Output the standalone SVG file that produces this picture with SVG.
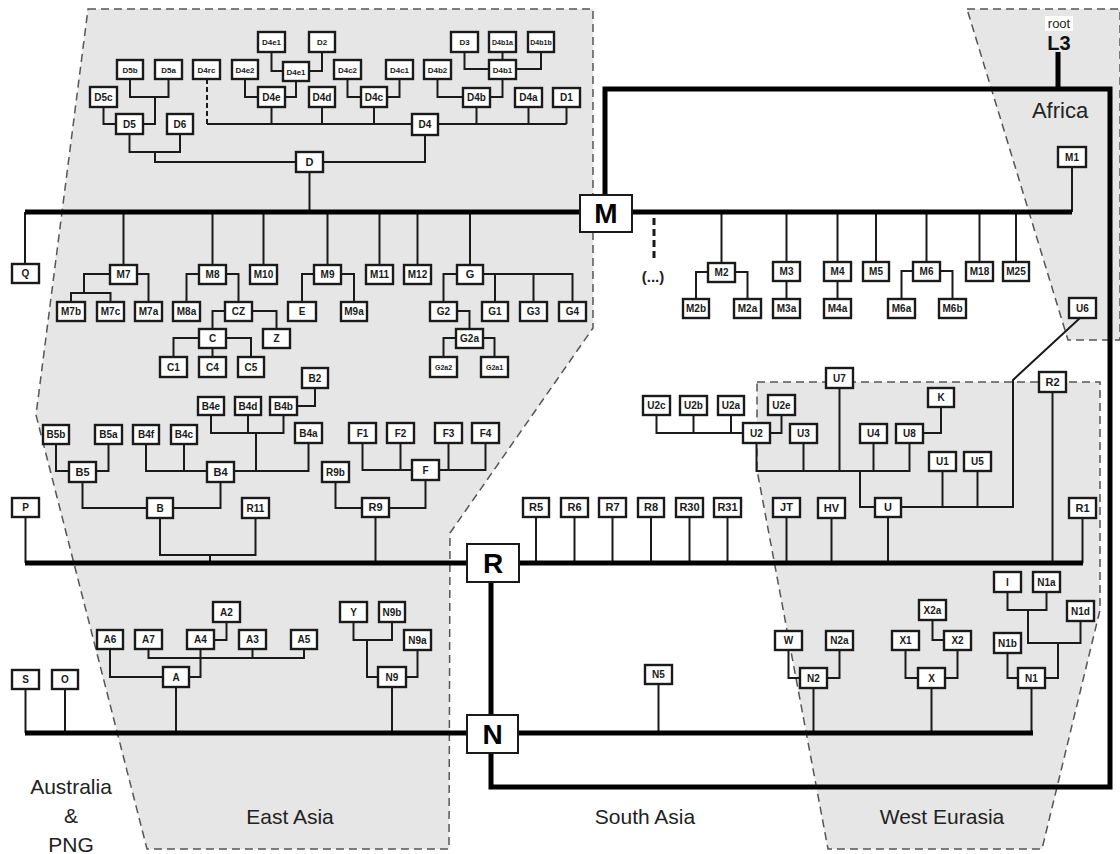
<svg xmlns="http://www.w3.org/2000/svg" width="1120" height="854" viewBox="0 0 1120 854">
<style>
.reg{fill:#e6e6e6;stroke:#555;stroke-width:1.5;stroke-dasharray:8,5}
.c{fill:none;stroke:#1a1a1a;stroke-width:2}
.dc{fill:none;stroke:#1a1a1a;stroke-width:2;stroke-dasharray:5,3}
.t{fill:none;stroke:#000;stroke-width:5}
.n rect{fill:#fff;stroke:#1a1a1a;stroke-width:2.4}
.b rect{fill:#fff;stroke:#1a1a1a;stroke-width:2}
.n text{font-family:"Liberation Sans",Arial,sans-serif;font-weight:bold;font-size:10px;text-anchor:middle;fill:#1a1a1a}
.n.s8 text{font-size:8px}
.n.s7 text{font-size:7px}
.b text{font-family:"Liberation Sans",Arial,sans-serif;font-weight:bold;font-size:28px;text-anchor:middle;fill:#000}
.lab{font-family:"Liberation Sans",Arial,sans-serif;font-size:21px;text-anchor:middle;fill:#222}
</style>
<rect width="1120" height="854" fill="#fff"/>
<g id="regions">
<polygon class="reg" points="88,9 593,9 593,328 450,533 449,849 147,849 36,415"/>
<polygon class="reg" points="967,9 1120,9 1120,340 1068,340"/>
<polygon class="reg" points="757,382 1100,382 1100,610 1042,849 828,849 757,470"/>
</g>
<g id="connectors">
<path class="c" d="M130,79 V97 H168.5 V79 M155,97 V124 H143 M103.5,107 V124 H116 M129.5,134 V152 H180 V134 M155,152 V162 H296 M323,162 H425 V135 M309.5,172 V212"/>
<path class="c" d="M207,124 H412 M438,124 H566.5 M271.5,107 V124 M322,107 V124 M374,107 V124 M476.5,107 V124 M528.5,107 V124 M566.5,107 V124"/>
<path class="dc" d="M207,79 V124"/>
<path class="c" d="M245,79 V97 H258 M296,81 V97 H285 M271.5,52 V71 H283 M322,52 V71 H309 M347.5,79 V97 H361 M399.5,79 V97 H387 M437.5,79 V97 H463 M502.5,79 V97 H490 M464.5,52 V69 H489 M502.5,52 V60 M541,52 V69 H516"/>
<path class="c" d="M25,212 V264 M123.5,212 V265 M212.5,212 V265 M263.5,212 V265 M327.5,212 V265 M379.5,212 V265 M417.5,212 V265 M470,212 V265 M721.5,212 V263 M786.5,212 V262 M837.5,212 V262 M876,212 V262 M926.5,212 V262 M979.5,212 V262 M1016,212 V262 M1072,212 V167"/>
<path class="dc" d="M654,218 V262" style="stroke-width:3;stroke-dasharray:7,4"/>
<path class="c" d="M110,274 H84 V293 M71,302 V293 H110.5 V302 M137,274 H148.5 V302 M199,274 H186.5 V302 M226,274 H238.5 V302 M225,311 H212.5 V329 M252,311 H276.5 V329 M199,338 H173.5 V357 M212.5,348 V357 M226,338 H251 V357"/>
<path class="c" d="M314,274 H302 V302 M341,274 H354 V302 M457,274 H443.5 V302 M483,274 H572.5 V302 M495,274 V302 M533.5,274 V302 M457,311 H469.5 V329 M456,338 H443.5 V357 M483,338 H494.5 V357"/>
<path class="c" d="M708,272 H696 V299 M735,272 H747.5 V299 M786.5,281 V299 M837.5,281 V299 M913,271 H901.5 V299 M940,271 H952.5 V299"/>
<path class="c" d="M297,406 H315 V388 M211,415 V433 H283.5 V415 M248,415 V433 M256,433 V471 M56,444 V471 H69 M108.5,444 V471 H96 M146,444 V471 H207 M184,444 V471 M234,471 H308.5 V443 M82.5,482 V508 H147 M173,508 H220.5 V482 M160,518 V555 H255.5 V518 M210,555 V563 M335.5,482 V508 H362 M375.5,517 V563 M362.5,443 V470 H412 M439,470 H485.5 V443 M400.5,443 V470 M448.5,443 V470 M425.5,480 V508 H389 M25.5,517 V563"/>
<path class="c" d="M536,517 V563 M574.5,517 V563 M612.5,517 V563 M651,517 V563 M689.5,517 V563 M727.5,517 V563 M786.5,517 V563 M831.5,518 V563 M888,517 V563 M1052.5,392 V563 M1082.5,518 V563"/>
<path class="c" d="M656.5,415 V433 H743 M693.5,415 V433 M731,415 V433 M781.5,415 V433 H770 M941,407 V433 H923 M756.5,443 V471 H909.5 V443 M803.5,443 V471 M839.5,388 V471 M873.5,443 V471 M860,471 V507 H875 M901,507 H1013 V380 L1080,318 M942.5,471 V507 M977.5,471 V507"/>
<path class="c" d="M25.5,689 V733 M65,689 V733 M226.5,622 V640 H214 M148.5,649 V658 H304 V649 M252.5,649 V658 M200.5,649 V677 H189 M110,649 V677 H163 M176,687 V733 M353.5,622 V640 H392 V622 M367,640 V677 H378 M417.5,650 V677 H406 M392,687 V733 M658.5,684 V733"/>
<path class="c" d="M788.5,650 V678 H800 M839.5,650 V678 H827 M813.5,688 V733 M932.5,620 V640 H944 M905.5,650 V678 H918 M957.5,650 V678 H945 M931.5,688 V733 M1007.5,592 V610 H1046.5 V592 M1028,610 V643 H1080.5 V621 M1058,643 V678 H1045 M1007.5,653 V678 H1018 M1031.5,688 V733"/>
<path class="t" d="M1058,52 V89 M605,195 V89 H1110 V787 H491 V753 M25,212 H580 M632,212 H1072 M25,563 H467 M519,563 H1083 M491,582 V715 M25,733 H467 M518,733 H1033"/>
</g>
<g id="labels">
<rect x="1045" y="16" width="28" height="15" fill="#fff"/>
<text x="1059" y="28" style="font-family:'Liberation Sans',Arial,sans-serif;font-size:13px;text-anchor:middle;fill:#222">root</text>
<text x="1059" y="50" style="font-family:'Liberation Sans',Arial,sans-serif;font-size:20px;font-weight:bold;text-anchor:middle;fill:#111">L3</text>
<text class="lab" x="1060" y="118" style="font-size:22px">Africa</text>
<text class="lab" x="653" y="282" style="font-size:15px;font-weight:bold">(...)</text>
<text class="lab" x="71" y="794">Australia</text>
<text class="lab" x="71" y="823">&amp;</text>
<text class="lab" x="71" y="852">PNG</text>
<text class="lab" x="290" y="824">East Asia</text>
<text class="lab" x="645" y="824">South Asia</text>
<text class="lab" x="942" y="824">West Eurasia</text>
</g>
<g id="n-D4e1-top" class="n s8"><rect x="258" y="32" width="27" height="20"/><text x="271.5" y="45">D4e1</text></g>
<g id="n-D2" class="n s8"><rect x="309" y="32" width="26" height="20"/><text x="322" y="45">D2</text></g>
<g id="n-D3" class="n s8"><rect x="451" y="32" width="27" height="20"/><text x="464.5" y="45">D3</text></g>
<g id="n-D4b1a" class="n s7"><rect x="489" y="32" width="27" height="20"/><text x="502.5" y="44.5">D4b1a</text></g>
<g id="n-D4b1b" class="n s7"><rect x="528" y="32" width="26" height="20"/><text x="541" y="44.5">D4b1b</text></g>
<g id="n-D5b" class="n s8"><rect x="117" y="60" width="26" height="19"/><text x="130" y="72.5">D5b</text></g>
<g id="n-D5a" class="n s8"><rect x="155" y="60" width="27" height="19"/><text x="168.5" y="72.5">D5a</text></g>
<g id="n-D4rc" class="n s8"><rect x="193" y="60" width="27" height="19"/><text x="206.5" y="72.5">D4rc</text></g>
<g id="n-D4e2" class="n s8"><rect x="232" y="60" width="26" height="19"/><text x="245" y="72.5">D4e2</text></g>
<g id="n-D4e1" class="n s8"><rect x="283" y="62" width="26" height="19"/><text x="296" y="74.5">D4e1</text></g>
<g id="n-D4c2" class="n s8"><rect x="334" y="60" width="27" height="19"/><text x="347.5" y="72.5">D4c2</text></g>
<g id="n-D4c1" class="n s8"><rect x="386" y="60" width="27" height="19"/><text x="399.5" y="72.5">D4c1</text></g>
<g id="n-D4b2" class="n s8"><rect x="424" y="60" width="27" height="19"/><text x="437.5" y="72.5">D4b2</text></g>
<g id="n-D4b1" class="n s8"><rect x="489" y="60" width="27" height="19"/><text x="502.5" y="72.5">D4b1</text></g>
<g id="n-D5c" class="n"><rect x="90" y="87" width="27" height="20"/><text x="103.5" y="100.5">D5c</text></g>
<g id="n-D4e" class="n"><rect x="258" y="87" width="27" height="20"/><text x="271.5" y="100.5">D4e</text></g>
<g id="n-D4d" class="n"><rect x="309" y="87" width="26" height="20"/><text x="322" y="100.5">D4d</text></g>
<g id="n-D4c" class="n"><rect x="361" y="87" width="26" height="20"/><text x="374" y="100.5">D4c</text></g>
<g id="n-D4b" class="n"><rect x="463" y="88" width="27" height="19"/><text x="476.5" y="101">D4b</text></g>
<g id="n-D4a" class="n"><rect x="515" y="88" width="27" height="19"/><text x="528.5" y="101">D4a</text></g>
<g id="n-D1" class="n"><rect x="553" y="88" width="27" height="19"/><text x="566.5" y="101">D1</text></g>
<g id="n-D5" class="n"><rect x="116" y="114" width="27" height="20"/><text x="129.5" y="127.5">D5</text></g>
<g id="n-D6" class="n"><rect x="167" y="114" width="26" height="20"/><text x="180" y="127.5">D6</text></g>
<g id="n-D4" class="n"><rect x="412" y="114" width="26" height="21"/><text x="425" y="128">D4</text></g>
<g id="n-D" class="n"><rect x="296" y="152" width="27" height="20"/><text x="309.5" y="165.5" style="font-size:11px">D</text></g>
<g id="n-M" class="b"><rect x="580" y="195" width="52" height="37"/><text x="606" y="223">M</text></g>
<g id="n-M1" class="n"><rect x="1058" y="147" width="28" height="20"/><text x="1072" y="160.5">M1</text></g>
<g id="n-Q" class="n"><rect x="12" y="264" width="27" height="19"/><text x="25.5" y="277">Q</text></g>
<g id="n-M7" class="n"><rect x="110" y="265" width="27" height="19"/><text x="123.5" y="278">M7</text></g>
<g id="n-M8" class="n"><rect x="199" y="265" width="27" height="19"/><text x="212.5" y="278">M8</text></g>
<g id="n-M10" class="n"><rect x="250" y="265" width="27" height="19"/><text x="263.5" y="278">M10</text></g>
<g id="n-M9" class="n"><rect x="314" y="265" width="27" height="19"/><text x="327.5" y="278">M9</text></g>
<g id="n-M11" class="n"><rect x="366" y="265" width="27" height="19"/><text x="379.5" y="278">M11</text></g>
<g id="n-M12" class="n"><rect x="404" y="265" width="27" height="19"/><text x="417.5" y="278">M12</text></g>
<g id="n-G" class="n"><rect x="457" y="265" width="26" height="19"/><text x="470" y="278" style="font-size:11px">G</text></g>
<g id="n-M7b" class="n"><rect x="57" y="302" width="28" height="19"/><text x="71" y="315">M7b</text></g>
<g id="n-M7c" class="n"><rect x="97" y="302" width="27" height="19"/><text x="110.5" y="315">M7c</text></g>
<g id="n-M7a" class="n"><rect x="135" y="302" width="27" height="19"/><text x="148.5" y="315">M7a</text></g>
<g id="n-M8a" class="n"><rect x="173" y="302" width="27" height="19"/><text x="186.5" y="315">M8a</text></g>
<g id="n-CZ" class="n"><rect x="225" y="302" width="27" height="19"/><text x="238.5" y="315">CZ</text></g>
<g id="n-E" class="n"><rect x="288" y="302" width="28" height="19"/><text x="302" y="315">E</text></g>
<g id="n-M9a" class="n"><rect x="341" y="302" width="26" height="19"/><text x="354" y="315">M9a</text></g>
<g id="n-G2" class="n"><rect x="430" y="302" width="27" height="19"/><text x="443.5" y="315">G2</text></g>
<g id="n-G1" class="n"><rect x="482" y="302" width="26" height="19"/><text x="495" y="315">G1</text></g>
<g id="n-G3" class="n"><rect x="520" y="302" width="27" height="19"/><text x="533.5" y="315">G3</text></g>
<g id="n-G4" class="n"><rect x="559" y="302" width="27" height="19"/><text x="572.5" y="315">G4</text></g>
<g id="n-C" class="n"><rect x="199" y="329" width="27" height="19"/><text x="212.5" y="342">C</text></g>
<g id="n-Z" class="n"><rect x="263" y="329" width="27" height="19"/><text x="276.5" y="342">Z</text></g>
<g id="n-G2a" class="n"><rect x="456" y="329" width="27" height="19"/><text x="469.5" y="342">G2a</text></g>
<g id="n-C1" class="n"><rect x="160" y="357" width="27" height="20"/><text x="173.5" y="370.5">C1</text></g>
<g id="n-C4" class="n"><rect x="199" y="357" width="27" height="20"/><text x="212.5" y="370.5">C4</text></g>
<g id="n-C5" class="n"><rect x="238" y="357" width="26" height="20"/><text x="251" y="370.5">C5</text></g>
<g id="n-G2a2" class="n s7"><rect x="430" y="357" width="27" height="20"/><text x="443.5" y="369.5">G2a2</text></g>
<g id="n-G2a1" class="n s7"><rect x="481" y="357" width="27" height="20"/><text x="494.5" y="369.5">G2a1</text></g>
<g id="n-M2" class="n"><rect x="708" y="263" width="27" height="19"/><text x="721.5" y="276">M2</text></g>
<g id="n-M3" class="n"><rect x="773" y="262" width="27" height="19"/><text x="786.5" y="275">M3</text></g>
<g id="n-M4" class="n"><rect x="824" y="262" width="27" height="19"/><text x="837.5" y="275">M4</text></g>
<g id="n-M5" class="n"><rect x="863" y="262" width="26" height="19"/><text x="876" y="275">M5</text></g>
<g id="n-M6" class="n"><rect x="913" y="262" width="27" height="19"/><text x="926.5" y="275">M6</text></g>
<g id="n-M18" class="n"><rect x="966" y="262" width="27" height="19"/><text x="979.5" y="275">M18</text></g>
<g id="n-M25" class="n"><rect x="1003" y="262" width="26" height="19"/><text x="1016" y="275">M25</text></g>
<g id="n-M2b" class="n"><rect x="683" y="299" width="26" height="19"/><text x="696" y="312">M2b</text></g>
<g id="n-M2a" class="n"><rect x="734" y="299" width="27" height="19"/><text x="747.5" y="312">M2a</text></g>
<g id="n-M3a" class="n"><rect x="773" y="299" width="27" height="19"/><text x="786.5" y="312">M3a</text></g>
<g id="n-M4a" class="n"><rect x="824" y="299" width="27" height="19"/><text x="837.5" y="312">M4a</text></g>
<g id="n-M6a" class="n"><rect x="888" y="299" width="27" height="19"/><text x="901.5" y="312">M6a</text></g>
<g id="n-M6b" class="n"><rect x="939" y="299" width="27" height="19"/><text x="952.5" y="312">M6b</text></g>
<g id="n-U6" class="n"><rect x="1069" y="298" width="27" height="20"/><text x="1082.5" y="311.5">U6</text></g>
<g id="n-B2" class="n"><rect x="302" y="368" width="26" height="20"/><text x="315" y="381.5">B2</text></g>
<g id="n-U7" class="n"><rect x="826" y="368" width="27" height="20"/><text x="839.5" y="381.5">U7</text></g>
<g id="n-R2" class="n"><rect x="1039" y="372" width="27" height="20"/><text x="1052.5" y="385.5" style="font-size:11px">R2</text></g>
<g id="n-K" class="n"><rect x="928" y="388" width="26" height="19"/><text x="941" y="401">K</text></g>
<g id="n-B4e" class="n"><rect x="198" y="397" width="26" height="18"/><text x="211" y="409.5">B4e</text></g>
<g id="n-B4d" class="n"><rect x="235" y="397" width="26" height="18"/><text x="248" y="409.5">B4d</text></g>
<g id="n-B4b" class="n"><rect x="270" y="397" width="27" height="18"/><text x="283.5" y="409.5">B4b</text></g>
<g id="n-U2c" class="n"><rect x="643" y="396" width="27" height="19"/><text x="656.5" y="409">U2c</text></g>
<g id="n-U2b" class="n"><rect x="680" y="396" width="27" height="19"/><text x="693.5" y="409">U2b</text></g>
<g id="n-U2a" class="n"><rect x="718" y="396" width="26" height="19"/><text x="731" y="409">U2a</text></g>
<g id="n-U2e" class="n"><rect x="768" y="395" width="27" height="20"/><text x="781.5" y="408.5">U2e</text></g>
<g id="n-U2" class="n"><rect x="743" y="423" width="27" height="20"/><text x="756.5" y="436.5">U2</text></g>
<g id="n-U3" class="n"><rect x="790" y="424" width="27" height="19"/><text x="803.5" y="437">U3</text></g>
<g id="n-U4" class="n"><rect x="860" y="424" width="27" height="19"/><text x="873.5" y="437">U4</text></g>
<g id="n-U8" class="n"><rect x="896" y="424" width="27" height="19"/><text x="909.5" y="437">U8</text></g>
<g id="n-B5b" class="n"><rect x="43" y="425" width="26" height="19"/><text x="56" y="438">B5b</text></g>
<g id="n-B5a" class="n"><rect x="95" y="425" width="27" height="19"/><text x="108.5" y="438">B5a</text></g>
<g id="n-B4f" class="n"><rect x="133" y="425" width="26" height="19"/><text x="146" y="438">B4f</text></g>
<g id="n-B4c" class="n"><rect x="171" y="425" width="26" height="19"/><text x="184" y="438">B4c</text></g>
<g id="n-B4a" class="n"><rect x="295" y="423" width="27" height="20"/><text x="308.5" y="436.5">B4a</text></g>
<g id="n-F1" class="n"><rect x="349" y="423" width="27" height="20"/><text x="362.5" y="436.5">F1</text></g>
<g id="n-F2" class="n"><rect x="387" y="423" width="27" height="20"/><text x="400.5" y="436.5">F2</text></g>
<g id="n-F3" class="n"><rect x="435" y="423" width="27" height="20"/><text x="448.5" y="436.5">F3</text></g>
<g id="n-F4" class="n"><rect x="472" y="423" width="27" height="20"/><text x="485.5" y="436.5">F4</text></g>
<g id="n-U1" class="n"><rect x="929" y="452" width="27" height="19"/><text x="942.5" y="465">U1</text></g>
<g id="n-U5" class="n"><rect x="964" y="452" width="27" height="19"/><text x="977.5" y="465">U5</text></g>
<g id="n-B5" class="n"><rect x="69" y="462" width="27" height="20"/><text x="82.5" y="475.5" style="font-size:11px">B5</text></g>
<g id="n-B4" class="n"><rect x="207" y="462" width="27" height="20"/><text x="220.5" y="475.5" style="font-size:11px">B4</text></g>
<g id="n-R9b" class="n"><rect x="322" y="462" width="27" height="20"/><text x="335.5" y="475.5">R9b</text></g>
<g id="n-F" class="n"><rect x="412" y="460" width="27" height="20"/><text x="425.5" y="473.5">F</text></g>
<g id="n-P" class="n"><rect x="12" y="498" width="27" height="19"/><text x="25.5" y="511">P</text></g>
<g id="n-B" class="n"><rect x="147" y="498" width="26" height="20"/><text x="160" y="511.5">B</text></g>
<g id="n-R11" class="n"><rect x="242" y="498" width="27" height="20"/><text x="255.5" y="511.5">R11</text></g>
<g id="n-R9" class="n"><rect x="362" y="498" width="27" height="19"/><text x="375.5" y="511" style="font-size:11px">R9</text></g>
<g id="n-R5" class="n"><rect x="523" y="498" width="26" height="19"/><text x="536" y="511" style="font-size:11px">R5</text></g>
<g id="n-R6" class="n"><rect x="561" y="498" width="27" height="19"/><text x="574.5" y="511" style="font-size:11px">R6</text></g>
<g id="n-R7" class="n"><rect x="599" y="498" width="27" height="19"/><text x="612.5" y="511" style="font-size:11px">R7</text></g>
<g id="n-R8" class="n"><rect x="638" y="498" width="26" height="19"/><text x="651" y="511" style="font-size:11px">R8</text></g>
<g id="n-R30" class="n"><rect x="676" y="498" width="27" height="19"/><text x="689.5" y="511" style="font-size:11px">R30</text></g>
<g id="n-R31" class="n"><rect x="714" y="498" width="27" height="19"/><text x="727.5" y="511" style="font-size:11px">R31</text></g>
<g id="n-JT" class="n"><rect x="773" y="498" width="27" height="19"/><text x="786.5" y="511" style="font-size:11px">JT</text></g>
<g id="n-HV" class="n"><rect x="818" y="498" width="27" height="20"/><text x="831.5" y="511.5" style="font-size:11px">HV</text></g>
<g id="n-U" class="n"><rect x="875" y="498" width="26" height="19"/><text x="888" y="511" style="font-size:11px">U</text></g>
<g id="n-R1" class="n"><rect x="1069" y="498" width="27" height="20"/><text x="1082.5" y="511.5" style="font-size:11px">R1</text></g>
<g id="n-R" class="b"><rect x="467" y="544" width="52" height="38"/><text x="493" y="573">R</text></g>
<g id="n-I" class="n"><rect x="994" y="572" width="27" height="20"/><text x="1007.5" y="585.5">I</text></g>
<g id="n-N1a" class="n"><rect x="1033" y="572" width="27" height="20"/><text x="1046.5" y="585.5">N1a</text></g>
<g id="n-X2a" class="n"><rect x="919" y="600" width="27" height="20"/><text x="932.5" y="613.5">X2a</text></g>
<g id="n-N1d" class="n"><rect x="1067" y="601" width="27" height="20"/><text x="1080.5" y="614.5">N1d</text></g>
<g id="n-A2" class="n"><rect x="213" y="602" width="27" height="20"/><text x="226.5" y="615.5">A2</text></g>
<g id="n-Y" class="n"><rect x="340" y="602" width="27" height="20"/><text x="353.5" y="615.5">Y</text></g>
<g id="n-N9b" class="n"><rect x="379" y="602" width="26" height="20"/><text x="392" y="615.5">N9b</text></g>
<g id="n-A6" class="n"><rect x="97" y="630" width="26" height="19"/><text x="110" y="643">A6</text></g>
<g id="n-A7" class="n"><rect x="135" y="630" width="27" height="19"/><text x="148.5" y="643">A7</text></g>
<g id="n-A4" class="n"><rect x="187" y="630" width="27" height="19"/><text x="200.5" y="643">A4</text></g>
<g id="n-A3" class="n"><rect x="239" y="630" width="27" height="19"/><text x="252.5" y="643">A3</text></g>
<g id="n-A5" class="n"><rect x="291" y="630" width="26" height="19"/><text x="304" y="643">A5</text></g>
<g id="n-N9a" class="n"><rect x="404" y="630" width="27" height="20"/><text x="417.5" y="643.5">N9a</text></g>
<g id="n-W" class="n"><rect x="775" y="631" width="27" height="19"/><text x="788.5" y="644">W</text></g>
<g id="n-N2a" class="n"><rect x="826" y="631" width="27" height="19"/><text x="839.5" y="644">N2a</text></g>
<g id="n-X1" class="n"><rect x="892" y="631" width="27" height="19"/><text x="905.5" y="644">X1</text></g>
<g id="n-X2" class="n"><rect x="944" y="631" width="27" height="19"/><text x="957.5" y="644">X2</text></g>
<g id="n-N1b" class="n"><rect x="994" y="633" width="27" height="20"/><text x="1007.5" y="646.5">N1b</text></g>
<g id="n-N5" class="n"><rect x="645" y="665" width="27" height="19"/><text x="658.5" y="678">N5</text></g>
<g id="n-A" class="n"><rect x="163" y="667" width="26" height="20"/><text x="176" y="680.5">A</text></g>
<g id="n-N9" class="n"><rect x="378" y="667" width="28" height="20"/><text x="392" y="680.5">N9</text></g>
<g id="n-N2" class="n"><rect x="800" y="668" width="27" height="20"/><text x="813.5" y="681.5">N2</text></g>
<g id="n-X" class="n"><rect x="918" y="668" width="27" height="20"/><text x="931.5" y="681.5">X</text></g>
<g id="n-N1" class="n"><rect x="1018" y="668" width="27" height="20"/><text x="1031.5" y="681.5">N1</text></g>
<g id="n-S" class="n"><rect x="12" y="670" width="27" height="19"/><text x="25.5" y="683">S</text></g>
<g id="n-O" class="n"><rect x="52" y="670" width="26" height="19"/><text x="65" y="683">O</text></g>
<g id="n-N" class="b"><rect x="467" y="715" width="51" height="38"/><text x="492.5" y="744">N</text></g>
</svg>
